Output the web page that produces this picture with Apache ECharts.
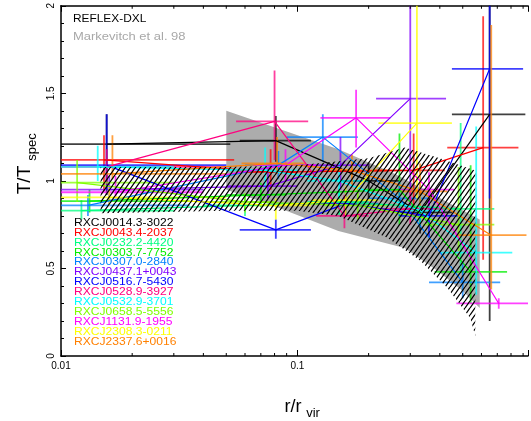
<!DOCTYPE html>
<html><head><meta charset="utf-8">
<script src="https://cdn.jsdelivr.net/npm/echarts@6/dist/echarts.min.js"></script>
<style>html,body{margin:0;padding:0;background:#fff}#c{width:531px;height:421px}</style>
</head><body><div id="c"></div>
<script>
// ---- data ----
const clusterNames = ['RXCJ0014.3-3022','RXCJ0043.4-2037','RXCJ0232.2-4420','RXCJ0303.7-7752','RXCJ0307.0-2840','RXCJ0437.1+0043','RXCJ0516.7-5430','RXCJ0528.9-3927','RXCJ0532.9-3701','RXCJ0658.5-5556','RXCJ1131.9-1955','RXCJ2308.3-0211','RXCJ2337.6+0016'];
const clusterColors = ['#000000','#ff0000','#00ff80','#00ee00','#0080ff','#8000ff','#0000ff','#ff0080','#00ffff','#80ff00','#ff00ff','#ffff00','#ff8000'];
// each point: [r, T, r_low, r_high, T_low, T_high]
const c0014 = [[0.0156,1.21,0.010,0.052,0.92,1.38],[0.081,1.23,0.057,0.114,1.11,1.37],[0.20,1.00,0.15,0.27,0.90,1.10],[0.33,0.82,0.27,0.45,0.70,0.95],[0.65,1.38,0.45,0.92,0.20,2.30]];
const c0043 = [[0.0152,1.12,0.010,0.054,0.94,1.26],[0.077,1.05,0.055,0.10,0.95,1.18],[0.31,1.06,0.21,0.42,0.80,1.27],[0.61,1.19,0.43,0.86,0.55,1.94]];
const c0232 = [[0.0122,0.83,0.010,0.030,0.78,0.89],[0.060,0.86,0.040,0.080,0.80,0.92],[0.15,0.88,0.11,0.20,0.80,0.96],[0.49,0.84,0.36,0.68,0.48,1.33]];
const c0303 = [[0.0132,0.885,0.010,0.035,0.82,0.95],[0.070,0.92,0.050,0.090,0.85,0.99],[0.27,0.95,0.19,0.36,0.75,1.27],[0.54,0.48,0.38,0.77,0.30,1.09]];
const c0307 = [[0.013,0.86,0.010,0.035,0.80,0.92],[0.083,1.09,0.060,0.110,1.01,1.17],[0.128,1.25,0.09,0.18,1.11,1.38],[0.27,0.90,0.20,0.36,0.80,1.00],[0.50,0.42,0.36,0.72,0.33,0.54]];
const c0437 = [[0.016,0.95,0.010,0.040,0.87,1.03],[0.075,0.97,0.050,0.100,0.90,1.08],[0.152,1.09,0.11,0.20,0.95,1.25],[0.30,1.47,0.215,0.425,0.85,2.30]];
const c0516 = [[0.0156,1.09,0.010,0.050,0.95,1.38],[0.081,0.72,0.057,0.114,0.67,0.78],[0.16,0.87,0.12,0.22,0.80,0.95],[0.36,0.80,0.27,0.48,0.68,0.92],[0.65,1.64,0.45,0.90,0.90,2.30]];
const c0528 = [[0.0156,1.08,0.010,0.050,0.98,1.18],[0.080,1.34,0.055,0.111,1.12,1.63],[0.158,0.80,0.12,0.20,0.73,0.92],[0.30,0.84,0.22,0.42,0.75,0.95]];
const c0532 = [[0.0143,1.08,0.010,0.030,1.00,1.20],[0.073,1.06,0.050,0.100,0.96,1.19],[0.15,1.00,0.11,0.20,0.90,1.11],[0.33,0.83,0.24,0.42,0.75,0.92],[0.57,0.59,0.40,0.81,0.35,1.31]];
const c0658 = [[0.0117,0.99,0.010,0.030,0.88,1.12],[0.060,0.88,0.040,0.080,0.82,0.93],[0.18,0.86,0.13,0.24,0.78,0.95],[0.48,0.75,0.34,0.68,0.60,1.08]];
const c1131 = [[0.017,0.935,0.010,0.040,0.90,1.03],[0.089,1.09,0.065,0.120,1.00,1.18],[0.177,1.36,0.125,0.247,1.19,1.52],[0.36,0.95,0.26,0.46,0.85,1.05],[0.71,0.30,0.47,0.95,0.27,0.33]];
const c2308 = [[0.016,0.906,0.010,0.050,0.86,0.96],[0.081,0.86,0.057,0.114,0.78,0.90],[0.16,0.89,0.115,0.22,0.80,0.97],[0.32,1.33,0.22,0.45,0.90,2.30]];
const c2337 = [[0.0165,1.04,0.010,0.050,1.01,1.26],[0.082,1.10,0.058,0.108,1.04,1.25],[0.17,1.06,0.12,0.24,0.98,1.15],[0.33,0.94,0.24,0.43,0.85,1.10],[0.66,0.69,0.47,0.93,0.38,1.89]];
const clusters = [c0014,c0043,c0232,c0303,c0307,c0437,c0516,c0528,c0532,c0658,c1131,c2308,c2337];

// Markevitch et al. 98 band (closed polygon, r, T)
const markevitchBand = [[0.050,1.40],[0.149,1.18],[0.259,1.04],[0.59,0.78],[0.59,0.274],[0.50,0.371],[0.392,0.486],[0.284,0.617],[0.149,0.714],[0.0752,0.869],[0.050,0.95]];
// REFLEX-DXL hatched region
const reflexBand = [[0.0147,1.08],[0.05,1.08],[0.10,1.09],[0.20,1.13],[0.284,1.19],[0.40,1.13],[0.565,1.06],[0.565,0.114],[0.538,0.217],[0.431,0.389],[0.332,0.543],[0.241,0.674],[0.149,0.80],[0.10,0.83],[0.05,0.83],[0.0147,0.815]];

const xMajorTicks = [0.01, 0.1];
const xTickLabels = ['0.01', '0.1'];
const xMinorTicks = [0.02,0.03,0.04,0.05,0.06,0.07,0.08,0.09,0.2,0.3,0.4,0.5,0.6,0.7,0.8,0.9];
const yTickValues = [0, 0.5, 1, 1.5, 2];
const yTickLabels = ['0', '0.5', '1', '1.5', '2'];

// ---- chart ----
const chart = echarts.init(document.getElementById('c'), null, {renderer: 'canvas'});

const hatch = document.createElement('canvas');
hatch.width = 5; hatch.height = 7;
(function () {
  const g = hatch.getContext('2d');
  g.strokeStyle = '#000'; g.lineWidth = 1.3; g.beginPath();
  for (const dx of [-5, 0, 5]) { g.moveTo(dx, 7); g.lineTo(dx + 5, 0); }
  g.stroke();
})();

function polygonSeries(points, style, z) {
  return {
    type: 'custom', z: z, silent: true, clip: true,
    data: points,
    encode: {x: 0, y: 1},
    renderItem: function (params, api) {
      if (params.dataIndex !== 0) return null;
      return {type: 'polygon', shape: {points: points.map(p => api.coord(p))}, style: style};
    }
  };
}

const series = [];
series.push(polygonSeries(markevitchBand, {fill: '#acacac'}, 1));

clusters.forEach(function (pts, i) {
  const col = clusterColors[i];
  series.push({
    type: 'line', z: 3, silent: true, symbol: 'none',
    data: pts.map(p => [p[0], p[1]]),
    lineStyle: {color: col, width: 1.2}
  });
  series.push({
    type: 'custom', z: 2, silent: true, clip: true,
    data: pts,
    encode: {x: [0, 2, 3], y: [1, 4, 5]},
    renderItem: function (params, api) {
      const r = api.value(0), t = api.value(1);
      const a = api.coord([api.value(2), t]), b = api.coord([api.value(3), t]);
      const c = api.coord([r, api.value(4)]), d = api.coord([r, api.value(5)]);
      const st = {stroke: col, lineWidth: 1.8, opacity: 0.75};
      return {type: 'group', children: [
        {type: 'line', shape: {x1: a[0], y1: a[1], x2: b[0], y2: b[1]}, style: st},
        {type: 'line', shape: {x1: c[0], y1: c[1], x2: d[0], y2: d[1]}, style: st}
      ]};
    }
  });
});

series.push(polygonSeries(reflexBand, {fill: {image: hatch, repeat: 'repeat'}}, 5));

// minor ticks on log x axis (bottom and top)
series.push({
  type: 'custom', z: 10, silent: true, clip: false,
  data: xMinorTicks.map(v => [v]),
  encode: {x: 0},
  renderItem: function (params, api) {
    const v = api.value(0);
    const p0 = api.coord([v, 0]), p1 = api.coord([v, 2]);
    const st = {stroke: '#000', lineWidth: 1};
    return {type: 'group', children: [
      {type: 'line', shape: {x1: p0[0], y1: p0[1], x2: p0[0], y2: p0[1] - 3}, style: st},
      {type: 'line', shape: {x1: p1[0], y1: p1[1], x2: p1[0], y2: p1[1] + 3}, style: st}
    ]};
  }
});

function fmtX(v) {
  const l = Math.log10(v), k = Math.round(l);
  if (Math.abs(l - k) > 1e-6) return '';
  const idx = xMajorTicks.findIndex(t => Math.abs(Math.log10(t) - k) < 1e-6);
  return idx >= 0 ? xTickLabels[idx] : '';
}
function fmtY(v) {
  const idx = yTickValues.findIndex(t => Math.abs(t - v) < 1e-9);
  return idx >= 0 ? yTickLabels[idx] : '';
}

const axisLineStyle = {color: '#000', width: 1.5};
const graphics = [
  {type: 'text', x: 73, y: 19, scaleX: 1.08, style: {text: 'REFLEX-DXL', fill: '#000', font: '11px "Liberation Sans"', align: 'left', verticalAlign: 'middle'}},
  {type: 'text', x: 73, y: 37, scaleX: 1.18, style: {text: 'Markevitch et al. 98', fill: '#a8a8a8', font: '11px "Liberation Sans"', align: 'left', verticalAlign: 'middle'}},
  {type: 'text', x: 25, y: 180, rotation: Math.PI / 2, style: {text: 'T/T', fill: '#000', font: '19px "Liberation Sans"', align: 'center', verticalAlign: 'middle'}},
  {type: 'text', x: 32, y: 147, rotation: Math.PI / 2, style: {text: 'spec', fill: '#000', font: '13px "Liberation Sans"', align: 'center', verticalAlign: 'middle'}},
  {type: 'text', x: 293, y: 407, style: {text: 'r/r', fill: '#000', font: '18px "Liberation Sans"', align: 'center', verticalAlign: 'middle'}},
  {type: 'text', x: 313, y: 413, style: {text: 'vir', fill: '#000', font: '13px "Liberation Sans"', align: 'center', verticalAlign: 'middle'}}
];
clusterNames.forEach(function (n, i) {
  graphics.push({type: 'text', x: 74, y: 223 + i * 9.9, z: 20, scaleX: 1.15, style: {text: n, fill: clusterColors[i], font: '10.5px "Liberation Sans"', align: 'left', verticalAlign: 'middle'}});
});

const option = {
  animation: false,
  backgroundColor: '#fff',
  grid: {left: 61, right: 0, top: 5, bottom: 65, containLabel: false},
  xAxis: [
    {type: 'log', logBase: 10, min: 0.01, max: 0.944, position: 'bottom',
     axisLine: {show: true, onZero: false, lineStyle: axisLineStyle},
     axisTick: {show: true, inside: true, length: 6, lineStyle: {color: '#000', width: 1}},
     axisLabel: {formatter: fmtX, color: '#000', fontSize: 10, fontFamily: 'Liberation Sans', margin: 5},
     splitLine: {show: false}},
    {type: 'log', logBase: 10, min: 0.01, max: 0.944, position: 'top',
     axisLine: {show: true, onZero: false, lineStyle: axisLineStyle},
     axisTick: {show: true, inside: true, length: 6, lineStyle: {color: '#000', width: 1}},
     axisLabel: {show: false}, splitLine: {show: false}}
  ],
  yAxis: [
    {type: 'value', min: 0, max: 2, interval: 0.5,
     axisLine: {show: true, onZero: false, lineStyle: axisLineStyle},
     axisTick: {show: true, inside: true, length: 5, lineStyle: {color: '#000', width: 1}},
     minorTick: {show: true, splitNumber: 5, length: 3, lineStyle: {color: '#000', width: 1}},
     axisLabel: {formatter: fmtY, rotate: 90, color: '#000', fontSize: 10, fontFamily: 'Liberation Sans', margin: 5},
     splitLine: {show: false}}
  ],
  graphic: graphics,
  series: series
};
chart.setOption(option);
</script></body></html>
